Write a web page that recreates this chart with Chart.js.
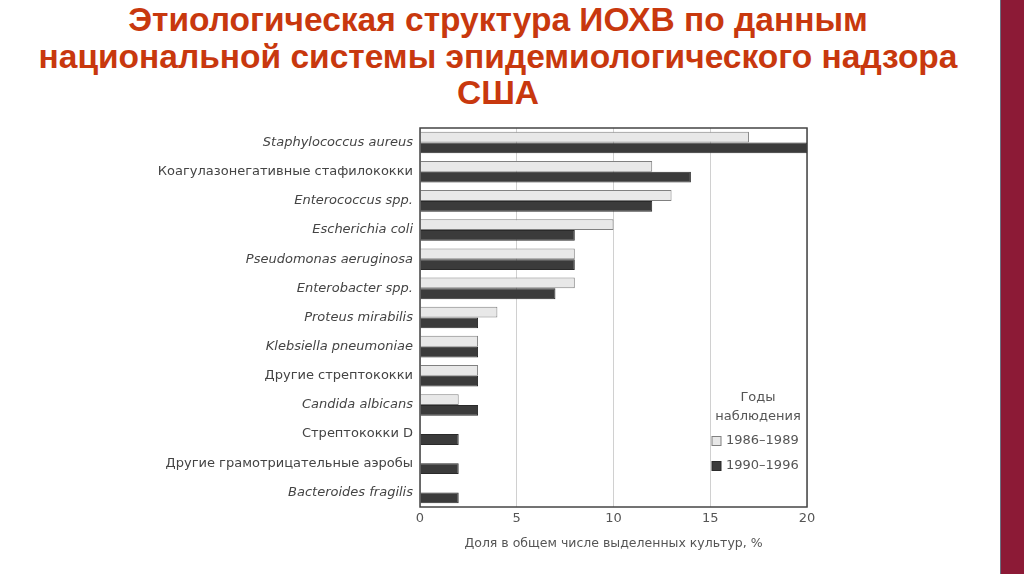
<!DOCTYPE html>
<html>
<head>
<meta charset="utf-8">
<script src="https://cdn.jsdelivr.net/npm/chart.js@4"></script>
<style>
  html, body { margin: 0; padding: 0; background: #fff; }
  body { width: 1024px; height: 574px; position: relative; overflow: hidden; }
  #title {
    position: absolute; left: 0; top: 2px; width: 996px;
    text-align: center; color: #c8380e;
    font: bold 33.5px "Liberation Sans", Arial, sans-serif; line-height: 36.5px;
  }
  #strip { position: absolute; left: 1000px; top: 0; width: 24px; height: 574px; background: #8c1a36; border-left: 1px solid #6b6f80; }
  #wrap { position: absolute; left: 0; top: 0; width: 1000px; height: 574px; }
</style>
</head>
<body>
<div id="title">Этиологическая структура ИОХВ по данным<br>национальной системы эпидемиологического надзора<br>США</div>
<div id="strip"></div>
<div id="wrap"><canvas id="chart"></canvas></div>
<script>
const categories = [
  "Staphylococcus aureus",
  "Коагулазонегативные стафилококки",
  "Enterococcus spp.",
  "Escherichia coli",
  "Pseudomonas aeruginosa",
  "Enterobacter spp.",
  "Proteus mirabilis",
  "Klebsiella pneumoniae",
  "Другие стрептококки",
  "Candida albicans",
  "Стрептококки D",
  "Другие грамотрицательные аэробы",
  "Bacteroides fragilis",
];
const years1986 = [17, 12, 13, 10, 8, 8, 4, 3, 3, 2, null, null, null];
const years1990 = [20, 14, 12, 8, 8, 7, 3, 3, 3, 3, 2, 2, 2];
const legendTitle = ["Годы", "наблюдения"];

const labelFont = '"DejaVu Sans", "Liberation Sans", sans-serif';

// frame round the plot area
const framePlugin = {
  id: "frame",
  afterDraw(chart) {
    const { ctx, chartArea: a } = chart;
    ctx.save();
    ctx.strokeStyle = "#444";
    ctx.lineWidth = 1.5;
    ctx.strokeRect(a.left, a.top, a.right - a.left, a.bottom - a.top);
    ctx.restore();
  },
};

// legend in the lower right corner of the plot
const boxLegend = {
  id: "boxLegend",
  afterDraw(chart) {
    const { ctx, chartArea: a } = chart;
    const cx = a.right - 49;
    ctx.save();
    ctx.font = "13px " + labelFont;
    ctx.fillStyle = "#555";
    ctx.textAlign = "center";
    ctx.textBaseline = "middle";
    legendTitle.forEach((t, i) => ctx.fillText(t, cx, a.bottom - 109 + i * 19));
    chart.data.datasets.forEach((ds, i) => {
      const y = a.bottom - 66 + i * 25;
      ctx.fillStyle = ds.backgroundColor;
      ctx.strokeStyle = ds.borderColor;
      ctx.lineWidth = 1;
      ctx.fillRect(a.right - 95, y - 4.5, 9, 9);
      ctx.strokeRect(a.right - 95, y - 4.5, 9, 9);
      ctx.fillStyle = "#555";
      ctx.textAlign = "left";
      ctx.fillText(ds.label, a.right - 81, y);
    });
    ctx.restore();
  },
};

new Chart(document.getElementById("chart"), {
  type: "bar",
  data: {
    labels: categories,
    datasets: [
      {
        label: "1986–1989",
        data: years1986,
        backgroundColor: "#e8e8e8",
        borderColor: "#808080",
        borderWidth: 1,
        borderSkipped: "start",
      },
      {
        label: "1990–1996",
        data: years1990,
        backgroundColor: "#3b3b3b",
        borderColor: "#2a2a2a",
        borderWidth: 1,
        borderSkipped: "start",
      },
    ],
  },
  options: {
    indexAxis: "y",
    responsive: true,
    maintainAspectRatio: false,
    animation: false,
    layout: { padding: { top: 128, right: 193, left: 0, bottom: 0 } },
    plugins: { legend: { display: false }, tooltip: { enabled: false } },
    datasets: { bar: { categoryPercentage: 0.74, barPercentage: 1.0 } },
    scales: {
      x: {
        min: 0,
        max: 20,
        ticks: {
          stepSize: 5,
          color: "#555",
          padding: 4,
          font: { family: labelFont, size: 13 },
        },
        grid: { color: "#d0d0d0", drawTicks: false },
        border: { display: false },
        title: {
          display: true,
          text: "Доля в общем числе выделенных культур, %",
          color: "#555",
          font: { family: labelFont, size: 12.5 },
          padding: { top: 4, bottom: 23 },
        },
        afterFit(scale) { scale.height = 67; },
      },
      y: {
        ticks: {
          color: "#444",
          padding: 7,
          font: (c) => ({
            family: labelFont,
            size: 13,
            style: /[А-Яа-я]/.test(categories[c.index] || "") ? "normal" : "italic",
          }),
        },
        grid: { display: false, drawTicks: false },
        border: { display: false },
        afterFit(scale) { scale.width = 420; },
      },
    },
  },
  plugins: [framePlugin, boxLegend],
});
</script>
</body>
</html>
